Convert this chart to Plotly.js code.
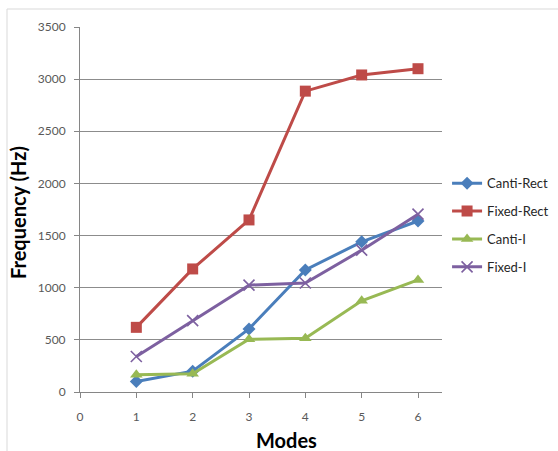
<!DOCTYPE html>
<html>
<head>
<meta charset="utf-8">
<script src="https://cdn.plot.ly/plotly-3.0.1.min.js"></script>
<style>html,body{margin:0;padding:0;background:#fff;}#chart{width:558px;height:451px;}</style>
</head>
<body>
<div id="chart"></div>
<script>
const modes = [1, 2, 3, 4, 5, 6];
const cantiRect = [100, 200, 605, 1170, 1440, 1640];
const fixedRect = [620, 1180, 1650, 2885, 3040, 3100];
const cantiI = [165, 175, 505, 515, 875, 1075];
const fixedI = [340, 685, 1025, 1045, 1360, 1705];
const seriesNames = ['Canti-Rect', 'Fixed-Rect', 'Canti-I', 'Fixed-I'];
const xTicks = [0, 1, 2, 3, 4, 5, 6];
const yTicks = [0, 500, 1000, 1500, 2000, 2500, 3000, 3500];

const colors = ['#4A7EBB', '#BE4B48', '#98B954', '#7D60A0'];
const symbols = ['diamond', 'square', 'triangle-up', 'x-thin'];
const sizes = [10, 11, 11, 11];
const values = [cantiRect, fixedRect, cantiI, fixedI];

const traces = values.map((v, i) => ({
  x: modes, y: v, name: seriesNames[i], type: 'scatter', mode: 'lines+markers',
  legendgroup: 'g' + i,
  line: {color: colors[i], width: 3},
  marker: {symbol: symbols[i], size: sizes[i], color: colors[i],
           line: {color: colors[i], width: i === 3 ? 1.6 : 0}}
}));

const layout = {
  width: 558, height: 451,
  margin: {l: 80, r: 116, t: 27, b: 59, autoexpand: false},
  paper_bgcolor: '#fff', plot_bgcolor: '#fff',
  font: {family: 'Lato, "Open Sans", sans-serif', size: 12, color: '#404040'},
  showlegend: true,
  legend: {x: 1.014, xanchor: 'left', y: 0.457, yanchor: 'middle',
           font: {size: 13, color: '#262626'}, tracegroupgap: 8, bgcolor: 'rgba(0,0,0,0)'},
  xaxis: {range: [0, 6.426], tickvals: xTicks, ticktext: xTicks.map(String), automargin: false,
          showgrid: false, zeroline: false, showline: true, linecolor: '#868686', linewidth: 1,
          ticks: 'outside', ticklen: 5, tickcolor: '#868686', ticklabelstandoff: 9,
          tickfont: {size: 12, color: '#595959'}},
  yaxis: {range: [0, 3500], tickvals: yTicks, ticktext: yTicks.map(String), automargin: false,
          showgrid: true, gridcolor: '#8c8c8c', gridwidth: 1, zeroline: false,
          showline: true, linecolor: '#868686', linewidth: 1,
          ticks: 'outside', ticklen: 5, tickcolor: '#868686', ticklabelstandoff: 6,
          tickfont: {size: 12, color: '#595959'}},
  annotations: [
    {text: '<b>Modes</b>', xref: 'paper', yref: 'paper', x: (286 - 80) / 362, y: (392 - 440) / 365,
     xanchor: 'center', yanchor: 'middle', showarrow: false, font: {size: 20, color: '#000'}},
    {text: '<b>Frequency (Hz)</b>', xref: 'paper', yref: 'paper', x: (18 - 80) / 362, y: (392 - 213) / 365,
     xanchor: 'center', yanchor: 'middle', textangle: -90, showarrow: false, font: {size: 20, color: '#000'}}
  ],
  shapes: [
    {type: 'rect', xref: 'paper', yref: 'paper', x0: (7 - 80) / 362, x1: 1.5, y0: -0.5, y1: (392 - 9) / 365,
     line: {color: '#d9d9d9', width: 1}, layer: 'below'}
  ]
};

Plotly.newPlot('chart', traces, layout, {displayModeBar: false, staticPlot: true});
</script>
</body>
</html>
